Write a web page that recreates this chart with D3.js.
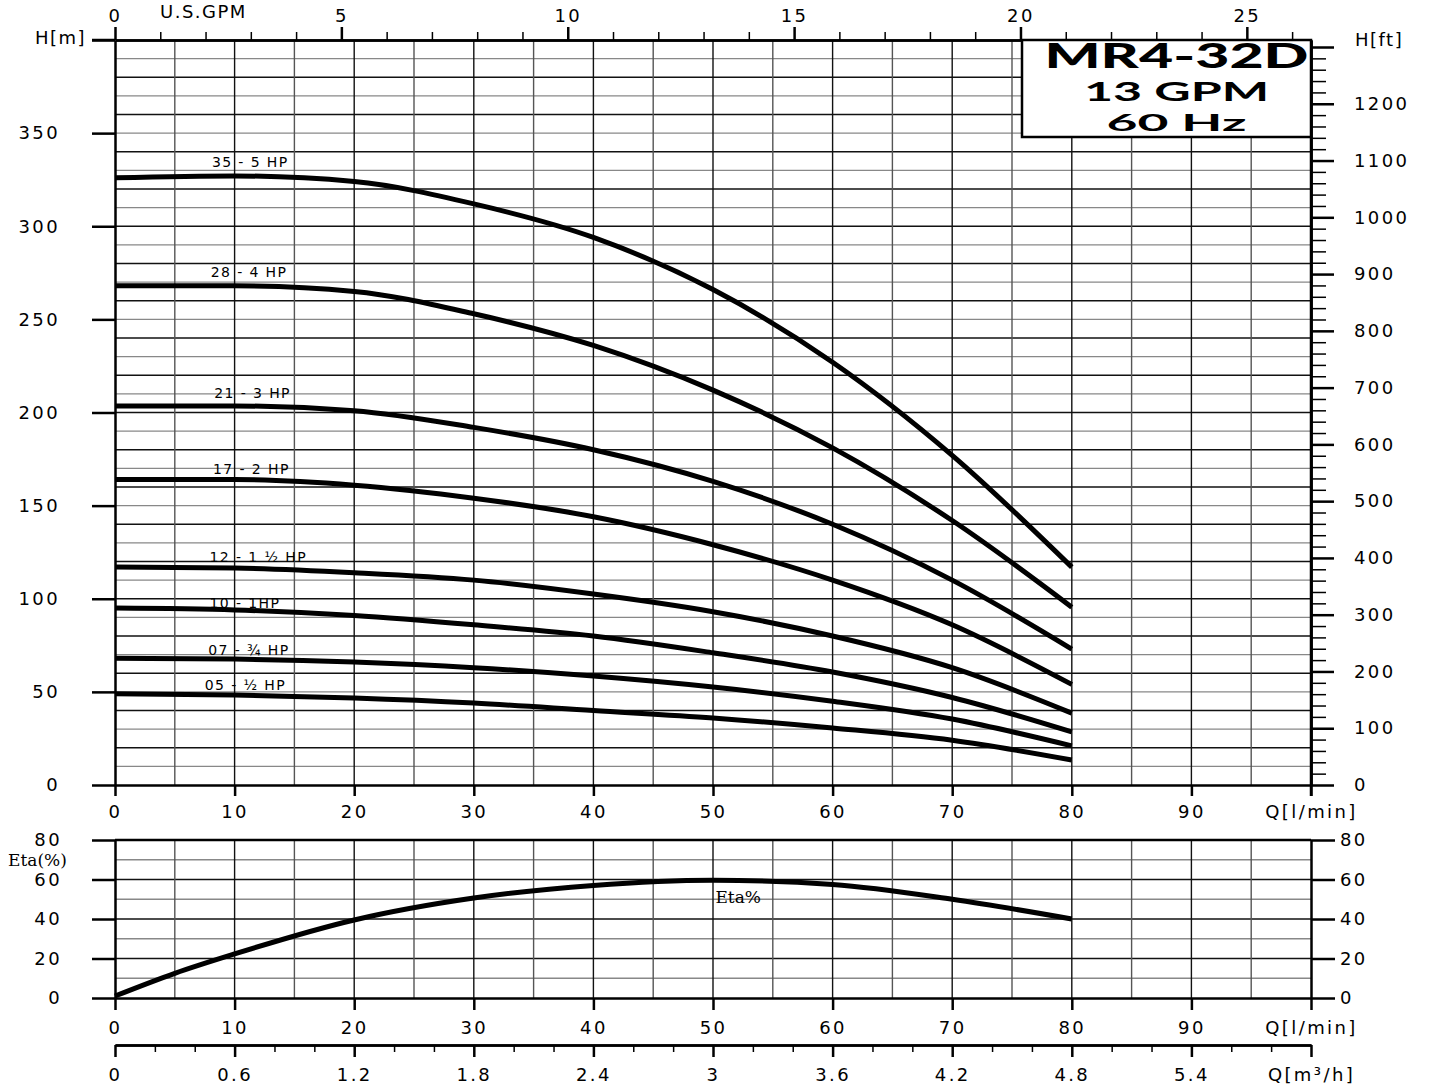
<!DOCTYPE html>
<html>
<head>
<meta charset="utf-8">
<script src="https://cdn.jsdelivr.net/npm/d3@7"></script>
<style>
body { margin: 0; background: #fff; }
text { font-family: "DejaVu Sans", sans-serif; fill: #000; }
.tick text { font-size: 18px; letter-spacing: 2.4px; }
.tick line { stroke: #000; stroke-width: 2.5; }
.domain { stroke: #000; stroke-width: 2.5; }
</style>
</head>
<body>
<div id="chart"></div>
<script>
// values (flow in l/min, head in m)
var flow = [0, 10, 20, 30, 40, 50, 60, 70, 80];
var head_35 = [326, 327, 324, 312, 294, 266, 227, 177, 117];
var head_28 = [268, 268, 265, 253, 236, 212, 181, 142, 95.5];
var head_21 = [203.5, 203.5, 201, 192, 180, 163, 140, 110, 73];
var head_17 = [164, 164, 161, 154, 144, 129, 110, 86, 54];
var head_12 = [117, 116.5, 114, 110, 102.5, 93, 80, 63, 38.6];
var head_10 = [95, 94, 91, 86, 80, 71, 60.7, 47, 28.5];
var head_07 = [68, 67.6, 66, 63, 58.5, 52.6, 45, 35.4, 21];
var head_05 = [49, 48.3, 46.7, 44, 40, 36, 30.6, 24, 13.4];

var eta_flow = [0, 5, 10, 20, 30, 40, 50, 60, 70, 80];
var eta_vals = [1, 12.5, 22.3, 39.5, 50.6, 57, 59.6, 57.5, 50, 40];

var pump_names = ["35 - 5 HP", "28 - 4 HP", "21 - 3 HP", "17 - 2 HP",
                  "12 - 1 ½ HP", "10 - 1HP", "07 - ¾ HP", "05 - ½ HP"];
var label_q = [8.1, 8.0, 8.3, 8.2, 7.9, 7.9, 7.8, 7.5];
var label_h = [332, 273, 208, 167, 120, 95, 70, 51];

var title_lines = ["MR4-32D", "13 GPM", "60 Hz"];

var heads = [head_35, head_28, head_21, head_17, head_12, head_10, head_07, head_05];

// magic numbers
var W = 1432, H = 1084;
var left = 115, right = 1311, top_h = 40, bottom_h = 785;
var top_e = 840, bottom_e = 998, m3_y = 1045;

var svg = d3.select("#chart").append("svg")
    .attr("width", W)
    .attr("height", H);

var x = d3.scaleLinear().domain([0, 100]).range([left, right]);
var xGpm = d3.scaleLinear().domain([0, 100 / 3.78541]).range([left, right]);
var xM3 = d3.scaleLinear().domain([0, 6]).range([left, right]);
var y = d3.scaleLinear().domain([0, 400]).range([bottom_h, top_h]);
var yFt = d3.scaleLinear().domain([0, 400 / 0.3048]).range([bottom_h, top_h]);
var yEta = d3.scaleLinear().domain([0, 80]).range([bottom_e, top_e]);

// ---- grids
function grid(g, yScale, yStep, yMax, y0, y1) {
	g.selectAll("line.h").data(d3.range(yStep, yMax, yStep)).enter().append("line")
		.attr("x1", left).attr("x2", right)
		.attr("y1", function(d) { return yScale(d); })
		.attr("y2", function(d) { return yScale(d); })
		.style("stroke", function(d, i) { return i % 2 ? "#111" : "#888"; })
		.style("stroke-width", 1.4);
	g.selectAll("line.v").data(d3.range(5, 100, 5)).enter().append("line")
		.attr("y1", y0).attr("y2", y1)
		.attr("x1", function(d) { return x(d); })
		.attr("x2", function(d) { return x(d); })
		.style("stroke", function(d) { return d % 10 ? "#555" : "#111"; })
		.style("stroke-width", 1.4);
}
grid(svg.append("g"), y, 10, 400, top_h, bottom_h);
grid(svg.append("g"), yEta, 10, 80, top_e, bottom_e);

// ---- curves
var line = d3.line()
		.x(function(d) { return x(d[0]); })
		.y(function(d) { return y(d[1]); })
		.curve(d3.curveMonotoneX);

svg.append("g").selectAll("path").data(heads).enter().append("path")
		.attr("d", function(h) { return line(flow.map(function(q, i) { return [q, h[i]]; })); })
		.style("fill", "none")
		.style("stroke", "#000")
		.style("stroke-width", 5);

var etaLine = d3.line()
		.x(function(d) { return x(d[0]); })
		.y(function(d) { return yEta(d[1]); })
		.curve(d3.curveMonotoneX);

svg.append("path")
		.attr("d", etaLine(eta_flow.map(function(q, i) { return [q, eta_vals[i]]; })))
		.style("fill", "none")
		.style("stroke", "#000")
		.style("stroke-width", 5);

// ---- curve labels
svg.append("g").selectAll("text").data(pump_names).enter().append("text")
		.attr("x", function(d, i) { return x(label_q[i]); })
		.attr("y", function(d, i) { return y(label_h[i]); })
		.style("font-size", "14px")
		.style("letter-spacing", "1.4px")
		.text(function(d) { return d; });

svg.append("text")
		.attr("x", x(50.2)).attr("y", yEta(48))
		.style("font-family", "'DejaVu Serif', serif")
		.style("font-size", "17px")
		.text("Eta%");

// ---- axes, main chart
svg.append("g")
		.attr("transform", "translate(" + left + ",0)")
		.call(d3.axisLeft(y).tickValues(d3.range(0, 401, 50)).tickSize(23).tickSizeOuter(0).tickPadding(32)
			.tickFormat(function(d) { return d == 400 ? "" : d; }));

svg.append("g")
		.attr("transform", "translate(0," + bottom_h + ")")
		.call(d3.axisBottom(x).tickValues(d3.range(0, 101, 10)).tickSize(11).tickSizeOuter(0).tickPadding(9)
			.tickFormat(function(d) { return d == 100 ? "Q[l/min]" : d; }));

// right side in feet
svg.append("g")
		.attr("transform", "translate(" + right + ",0)")
		.call(d3.axisRight(yFt).tickValues(d3.range(0, 1301, 20).filter(function(d) { return d % 100; }))
			.tickSize(15).tickSizeOuter(0).tickFormat(""))
		.selectAll(".tick line").style("stroke-width", 1.5);

svg.append("g")
		.attr("transform", "translate(" + right + ",0)")
		.call(d3.axisRight(yFt).tickValues(d3.range(0, 1301, 100)).tickSize(23).tickSizeOuter(0).tickPadding(20)
			.tickFormat(function(d) { return d == 1300 ? "" : d; }));

// top in US GPM
svg.append("g")
		.attr("transform", "translate(0," + top_h + ")")
		.call(d3.axisTop(xGpm).tickValues(d3.range(0, 27, 1).filter(function(d) { return d % 5; }))
			.tickSize(8).tickSizeOuter(0).tickFormat(""))
		.selectAll(".tick line").style("stroke-width", 1.5);

svg.append("g")
		.attr("transform", "translate(0," + top_h + ")")
		.call(d3.axisTop(xGpm).tickValues(d3.range(0, 26, 5)).tickSize(13).tickSizeOuter(0).tickPadding(5));

svg.append("line")
		.attr("x1", left - 23).attr("x2", left).attr("y1", top_h).attr("y2", top_h)
		.style("stroke", "#000").style("stroke-width", 2.5);
svg.append("line")
		.attr("x1", right).attr("x2", right).attr("y1", top_h).attr("y2", bottom_h + 11)
		.style("stroke", "#000").style("stroke-width", 2.5);

svg.append("text").attr("x", 86).attr("y", 44).attr("text-anchor", "end")
		.style("font-size", "18px").style("letter-spacing", "1.5px").text("H[m]");
svg.append("text").attr("x", 1355).attr("y", 46)
		.style("font-size", "18px").style("letter-spacing", "1.5px").text("H[ft]");
svg.append("text").attr("x", 160).attr("y", 18)
		.style("font-size", "18px").style("letter-spacing", "1.5px").text("U.S.GPM");

// ---- axes, efficiency chart
svg.append("g")
		.attr("transform", "translate(" + left + ",0)")
		.call(d3.axisLeft(yEta).tickValues(d3.range(0, 81, 20)).tickSize(23).tickSizeOuter(0).tickPadding(30));

svg.append("g")
		.attr("transform", "translate(" + right + ",0)")
		.call(d3.axisRight(yEta).tickValues(d3.range(0, 81, 20)).tickSize(24).tickSizeOuter(0).tickPadding(5));

svg.append("g")
		.attr("transform", "translate(0," + bottom_e + ")")
		.call(d3.axisBottom(x).tickValues(d3.range(0, 101, 10)).tickSize(12).tickSizeOuter(0).tickPadding(11)
			.tickFormat(function(d) { return d == 100 ? "Q[l/min]" : d; }));

svg.append("line")
		.attr("x1", left).attr("x2", right).attr("y1", top_e).attr("y2", top_e)
		.style("stroke", "#000").style("stroke-width", 2.5);

svg.append("text").attr("x", 8).attr("y", 866)
		.style("font-family", "'DejaVu Serif', serif")
		.style("font-size", "17px").text("Eta(%)");

// ---- m3/h scale
svg.append("g")
		.attr("transform", "translate(0," + m3_y + ")")
		.call(d3.axisBottom(xM3).tickValues(d3.range(0, 31, 1).map(function(d) { return d * 0.2; })
				.filter(function(d, i) { return i % 3; }))
			.tickSize(7).tickSizeOuter(0).tickFormat(""))
		.selectAll(".tick line").style("stroke-width", 1.5);

svg.append("g")
		.attr("transform", "translate(0," + m3_y + ")")
		.call(d3.axisBottom(xM3).tickValues(d3.range(0, 11, 1).map(function(d) { return d * 0.6; }))
			.tickSize(12).tickSizeOuter(0).tickPadding(11)
			.tickFormat(function(d, i) { return i == 10 ? "Q[m³/h]" : d3.format(".1~f")(d); }));

// ---- title box
var box = svg.append("g");
box.append("rect")
		.attr("x", 1022).attr("y", top_h)
		.attr("width", right - 1022).attr("height", 97)
		.style("fill", "#fff").style("stroke", "#000").style("stroke-width", 2.5);

var title_y = [68, 101, 131], title_w = [264, 185, 140], title_fs = [35, 26, 23], title_wt = [900, 700, 700];
box.selectAll("text").data(title_lines).enter().append("text")
		.attr("x", (1022 + right) / 2 + 10)
		.attr("y", function(d, i) { return title_y[i]; })
		.attr("text-anchor", "middle")
		.attr("textLength", function(d, i) { return title_w[i]; })
		.attr("lengthAdjust", "spacingAndGlyphs")
		.style("font-family", "Lato, sans-serif")
		.style("font-weight", function(d, i) { return title_wt[i]; })
		.style("font-size", function(d, i) { return title_fs[i] + "px"; })
		.text(function(d) { return d; });
</script>
</body>
</html>
